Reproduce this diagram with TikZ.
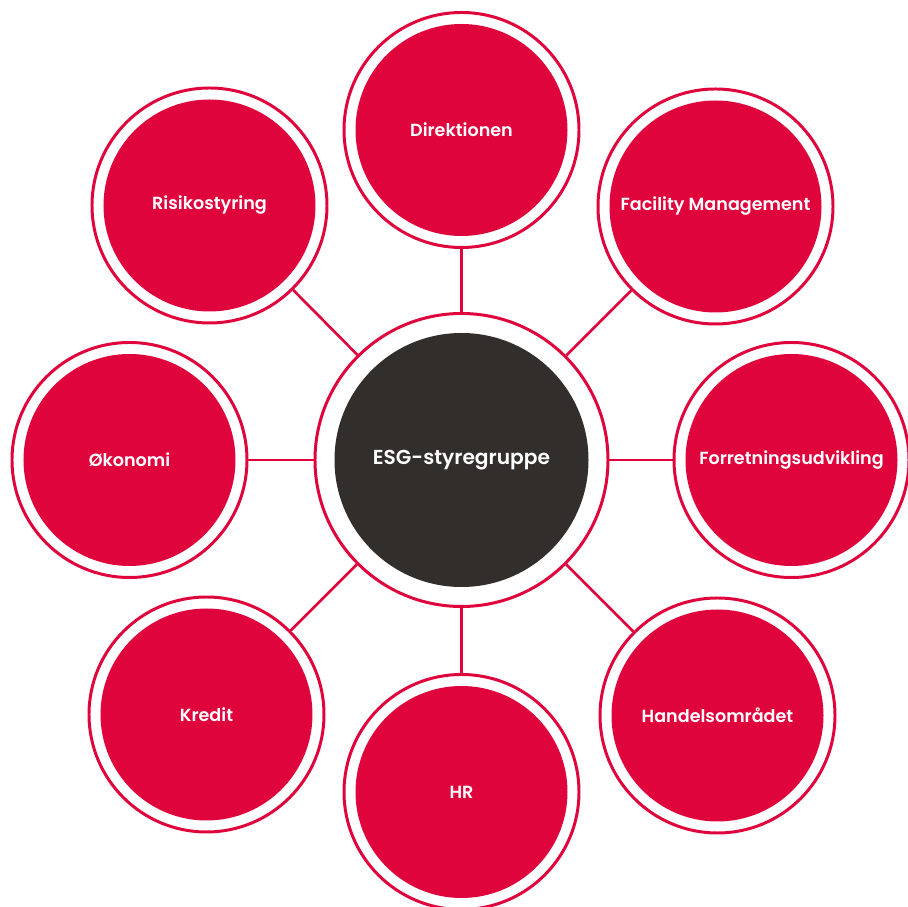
\documentclass[tikz,border=0pt]{standalone}
\usepackage{fontspec}
\setmainfont{Poppins}[BoldFont={Poppins SemiBold}]
\usepackage{tikz}
\usetikzlibrary{positioning}

\definecolor{esgred}{RGB}{224,4,60}
\definecolor{esgdark}{RGB}{50,46,44}

\tikzset{
    unit/.style={circle, draw=esgred, line width=1.7pt, fill=white,
        minimum size=4.7cm, inner sep=0pt, text=white,
        font=\bfseries\fontsize{10}{12}\selectfont,
        path picture={\fill[esgred] (path picture bounding box.center) circle (2.12cm);}},
    hub/.style={circle, draw=esgred, line width=1.7pt, fill=white,
        minimum size=5.86cm, inner sep=0pt, text=white,
        font=\bfseries\fontsize{11.5}{13}\selectfont,
        path picture={\fill[esgdark] (path picture bounding box.center) circle (2.54cm);}},
    link/.style={draw=esgred, line width=1.5pt}
}

\begin{document}
\begin{tikzpicture}
    \useasboundingbox (-9.23,-8.94) rectangle (8.93,9.2);
    \fill[white] (-9.23,-8.94) rectangle (8.93,9.2);

    % centre
    \node[hub] (esg) at (0,0) {ESG-styregruppe};

    % units round the centre
    \node[unit] (dir) at (0,6.6) {Direktionen};
    \node[unit] (fm) at (5.08,5.07) {Facility Management};
    \node[unit] (forr) at (6.6,0) {Forretningsudvikling};
    \node[unit] (handel) at (5.12,-5.11) {Handelsområdet};
    \node[unit] (hr) at (0,-6.64) {HR};
    \node[unit] (kredit) at (-5.1,-5.09) {Kredit};
    \node[unit] (oek) at (-6.64,0) {Økonomi};
    \node[unit] (risk) at (-5.04,5.09) {Risikostyring};

    % links
    \draw[link] (esg) -- (dir);
    \draw[link] (esg) -- (fm);
    \draw[link] (esg) -- (forr);
    \draw[link] (esg) -- (handel);
    \draw[link] (esg) -- (hr);
    \draw[link] (esg) -- (kredit);
    \draw[link] (esg) -- (oek);
    \draw[link] (esg) -- (risk);
\end{tikzpicture}
\end{document}
